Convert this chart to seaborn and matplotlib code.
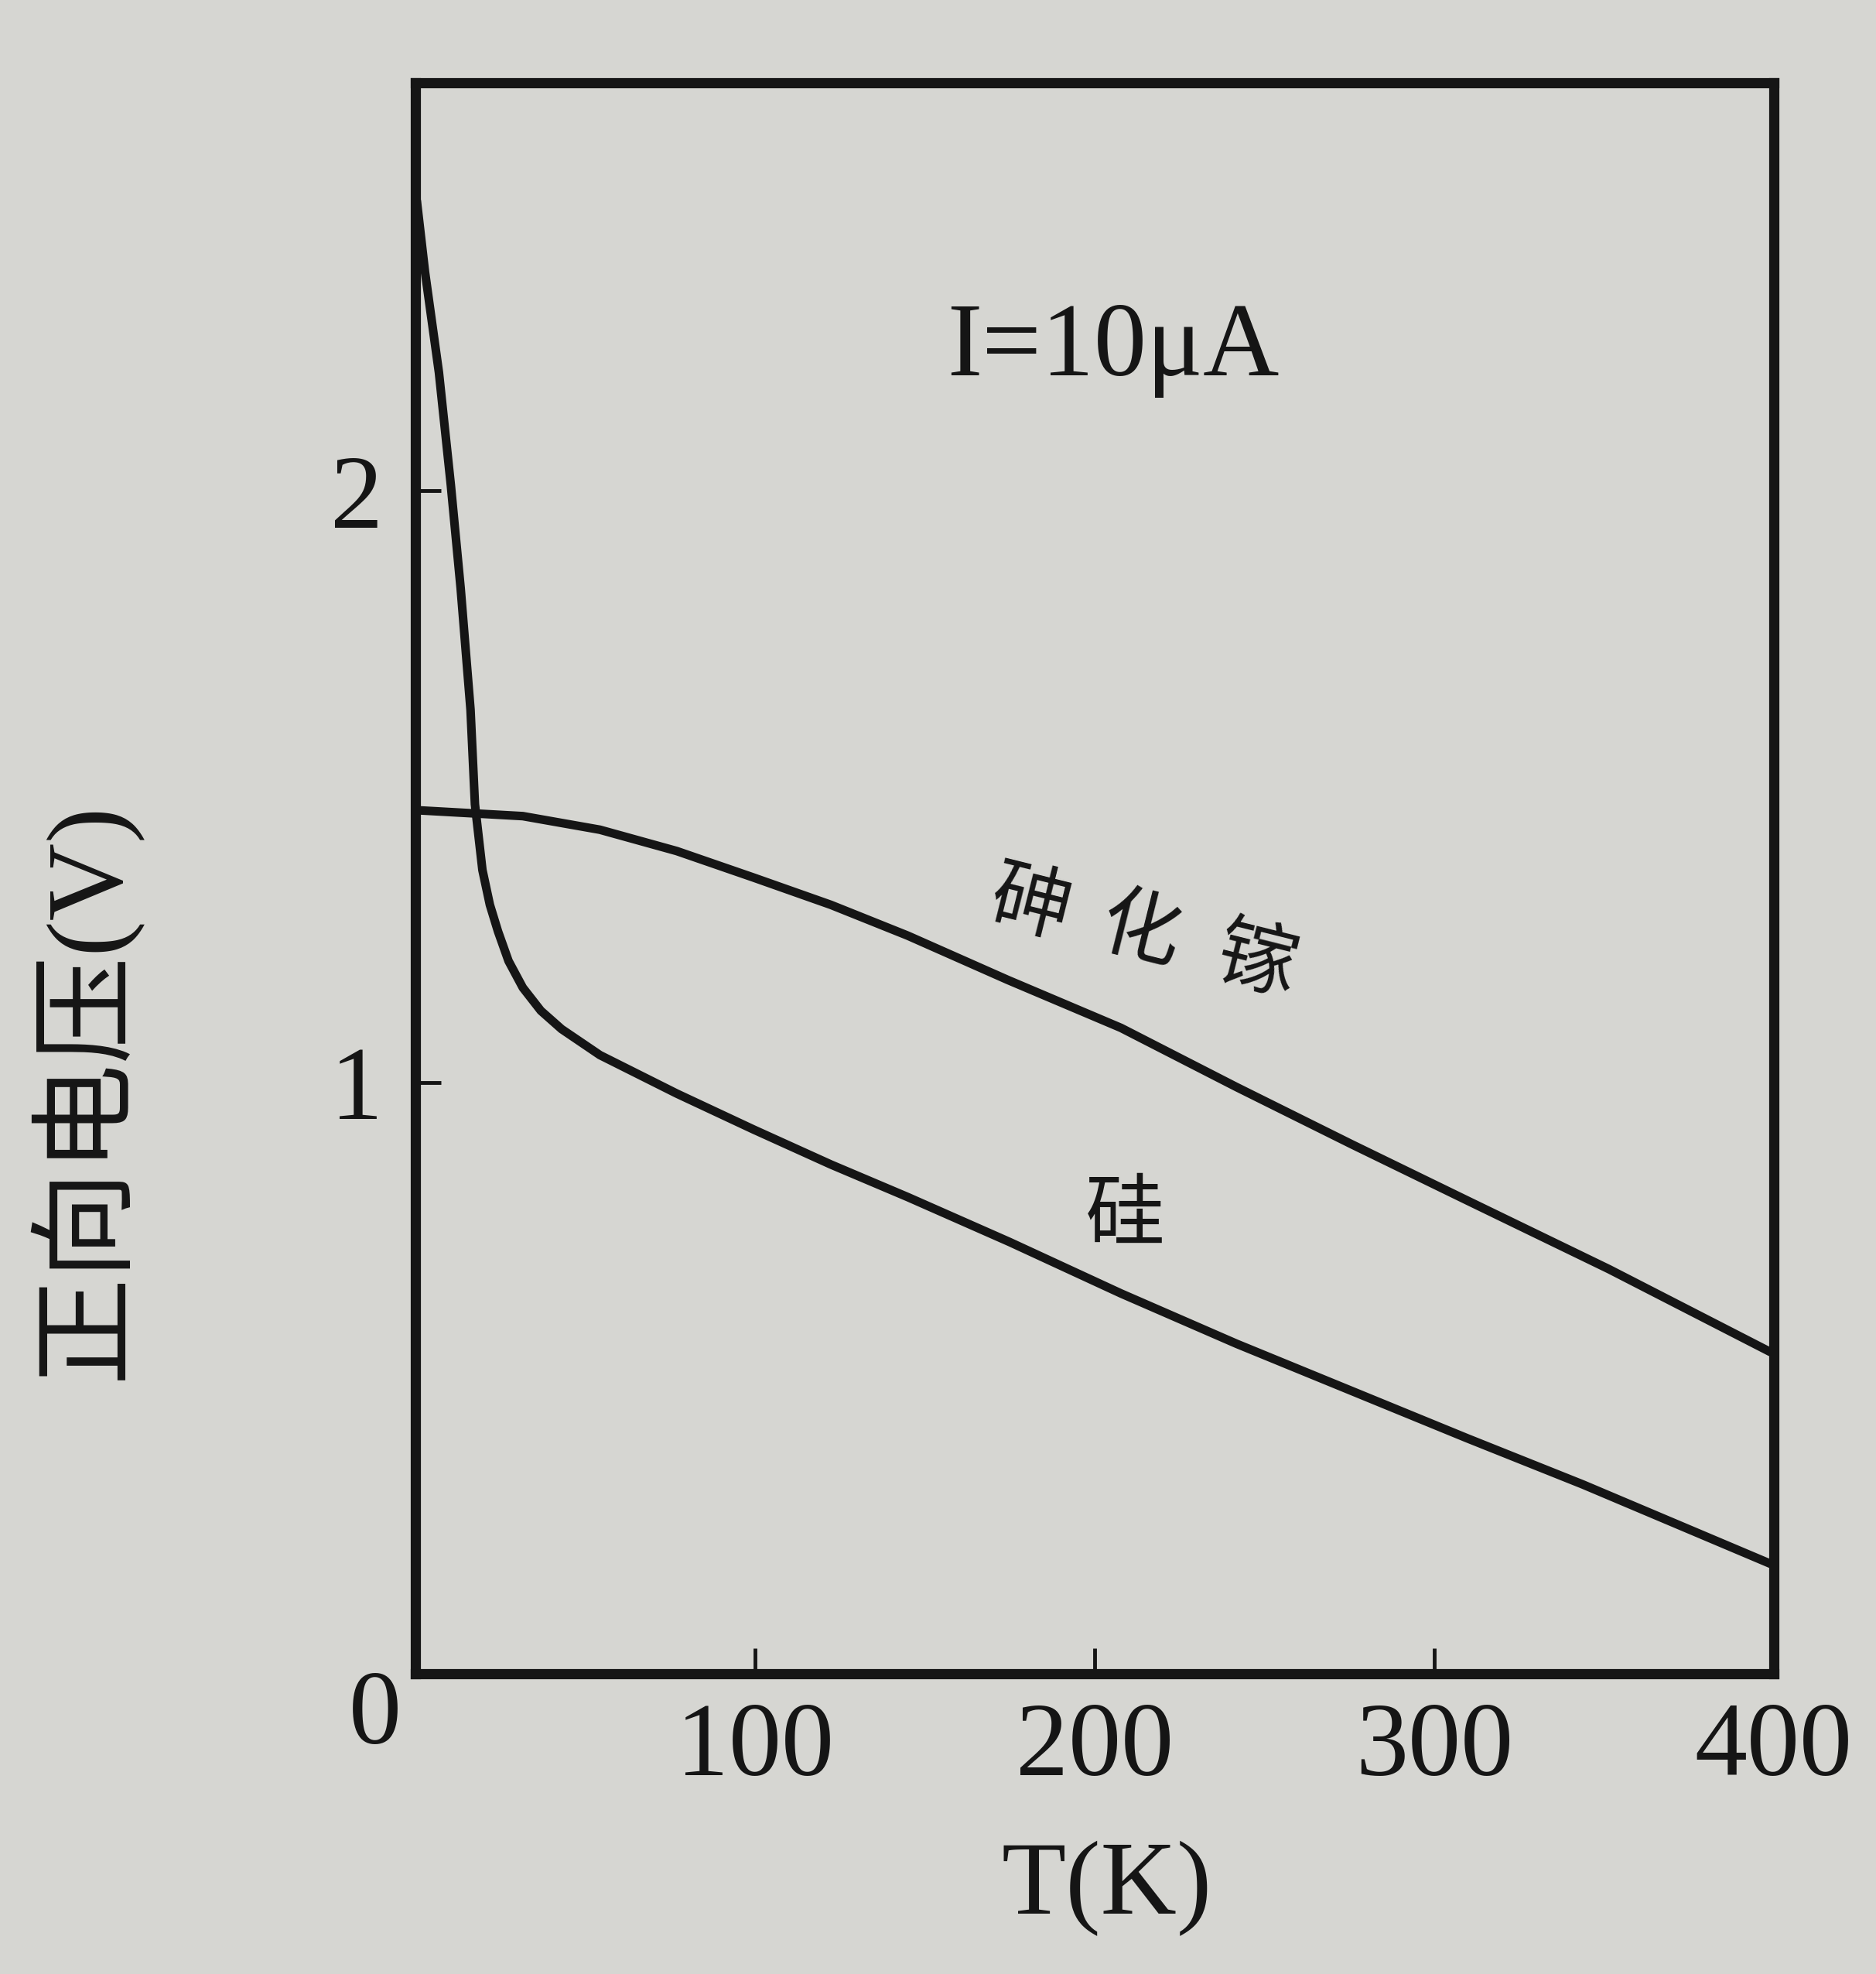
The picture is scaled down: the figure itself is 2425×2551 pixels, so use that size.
import numpy as np
import pandas as pd
import matplotlib
matplotlib.use('Agg')
import matplotlib.pyplot as plt
import seaborn as sns

# 数据
si_T = [0.5, 2.9, 7.0, 10.5, 13.4, 16.3, 17.6, 19.8, 22.0, 24.4, 27.5, 31.7,
        37.0, 43.1, 54.4, 77.0, 99.7, 122.4, 145.0, 175.0, 207.8, 241.8,
        275.8, 309.8, 343.8, 399]
si_V = [2.49, 2.37, 2.20, 2.01, 1.835, 1.63, 1.47, 1.359, 1.30, 1.255, 1.205,
        1.160, 1.121, 1.090, 1.046, 0.981, 0.920, 0.861, 0.806, 0.730, 0.643,
        0.558, 0.478, 0.398, 0.320, 0.186]

gaas_T = [0.5, 31.7, 54.4, 77.0, 99.7, 122.4, 145.0, 174.5, 207.8, 241.8,
          275.8, 309.8, 351.5, 399]
gaas_V = [1.460, 1.450, 1.427, 1.391, 1.346, 1.300, 1.248, 1.173, 1.092, 0.992,
          0.895, 0.800, 0.684, 0.544]

x_ticks = [100, 200, 300, 400]
y_ticks = [1, 2]
x_label = 'T(K)'
y_label = '正向电压(V)'
current_note = 'I=10μA'
gaas_chars = ['砷', '化', '镓']
gaas_char_pos = [(181, 1.299), (213.6, 1.255), (247.8, 1.202)]
si_note = '硅'
si_note_pos = (209, 0.773)

PAPER = '#d6d6d2'
INK = '#151515'

sns.set_theme(style='ticks')
plt.rcParams['font.family'] = ['Liberation Serif', 'Noto Sans CJK SC', 'DejaVu Sans']

df = pd.concat([
    pd.DataFrame({'T': si_T, 'V': si_V, 'material': '硅'}),
    pd.DataFrame({'T': gaas_T, 'V': gaas_V, 'material': '砷化镓'}),
], ignore_index=True)

fig = plt.figure(figsize=(24.25, 25.51), dpi=100, facecolor=PAPER)
ax = fig.add_axes([0.2213, 0.1521, 0.7242, 0.806])
ax.set_facecolor(PAPER)

sns.lineplot(data=df, x='T', y='V', units='material', estimator=None,
             color=INK, linewidth=8, sort=False, ax=ax, legend=False)
for line in ax.get_lines():
    line.set_solid_joinstyle('round')
    line.set_solid_capstyle('round')

ax.set_xlim(0, 400)
ax.set_ylim(0, 2.69)
ax.set_xticks(x_ticks)
ax.set_yticks(y_ticks)
ax.set_xticklabels([str(t) for t in x_ticks])
ax.set_yticklabels([str(t) for t in y_ticks])
ax.tick_params(axis='both', direction='in', length=24, width=3.5, colors=INK,
               labelsize=98, labelcolor=INK)
ax.tick_params(axis='x', pad=26)
ax.tick_params(axis='y', pad=30)

for sp in ax.spines.values():
    sp.set_visible(True)
    sp.set_linewidth(9.5)
    sp.set_color(INK)

# 原点 0
ax.annotate('0', xy=(0, 0), xytext=(-37, -41), textcoords='offset points',
            ha='center', va='center', fontsize=98, color=INK,
            annotation_clip=False)

ax.set_xlabel(x_label, fontsize=98, color=INK, va='center')
ax.xaxis.set_label_coords(0.509, -0.1347)
ax.set_ylabel(y_label, fontsize=100, color=INK, va='center', ha='center')
ax.yaxis.set_label_coords(-0.2447, 0.3667)

ax.text(205.5, 2.238, current_note, fontsize=98, color=INK,
        ha='center', va='center')
for ch, (tx, ty) in zip(gaas_chars, gaas_char_pos):
    ax.text(tx, ty, ch, fontsize=74, color=INK, ha='center', va='center',
            rotation=-14, family=['Noto Sans CJK SC'])
ax.text(si_note_pos[0], si_note_pos[1], si_note, fontsize=74, color=INK,
        ha='center', va='center', family=['Noto Sans CJK SC'])

fig.savefig('out.png', dpi=100, facecolor=PAPER)
